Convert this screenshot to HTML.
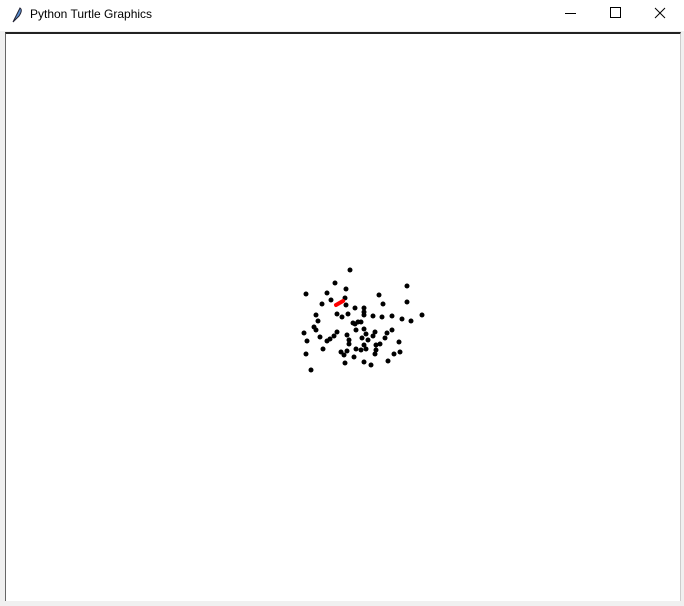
<!DOCTYPE html>
<html><head><meta charset="utf-8"><style>
html,body{margin:0;padding:0;width:684px;height:605px;overflow:hidden;background:#f0f0f0;font-family:"Liberation Sans",sans-serif}
#title{position:absolute;left:0;top:0;width:684px;height:31px;background:#fff}
#title span{position:absolute;left:30px;top:7px;font-size:12px;color:#000}
#canvas{position:absolute;left:5px;top:32px;width:674px;height:567px;background:#fff;border-top:2px solid #222;border-left:1px solid #666;border-right:1px solid #ccc}
</style></head><body>
<div id="title">
<svg width="14" height="18" style="position:absolute;left:10px;top:6px"><path d="M3 16 L10 2 Q13 4 9 10 Z" fill="#5a8fd0" stroke="#223" stroke-width="1"/></svg>
<span>Python Turtle Graphics</span>
<svg width="120" height="31" style="position:absolute;left:560px;top:0">
<line x1="5" y1="13.5" x2="16" y2="13.5" stroke="#000"/>
<rect x="50.5" y="7.5" width="10" height="10" fill="none" stroke="#000"/>
<path d="M95 8 L105 18 M105 8 L95 18" stroke="#000"/>
</svg>
</div>
<div id="canvas">
<svg id="plot" width="674" height="567"></svg>
</div>
<script>
const xs=[7,-8,3,64,-37,-16,2,36,-12,-21,40,64,3,12,21,21,-6,-1,5,21,30,39,49,59,68,79,-27,-25,-29,-27,10,15,12,18,-39,-6,-9,-13,-16,-23,4,13,21,23,32,30,44,49,6,19,25,42,56,-36,6,21,33,37,-20,13,18,23,33,-37,-2,4,1,32,51,57,11,2,21,28,45,-32];
const ys=[48,35,29,32,24,25,20,23,18,14,14,16,13,10,10,6,4,1,4,3,2,1,2,-1,-3,3,3,-3,-9,-12,-5,-4,-6,-4,-15,-14,-18,-21,-23,-19,-17,-12,-11,-16,-14,-18,-15,-12,-22,-20,-22,-20,-24,-23,-26,-27,-27,-26,-31,-31,-32,-31,-32,-36,-34,-33,-37,-36,-36,-34,-39,-45,-44,-47,-43,-52];
const redX=[-7,0];
const redY=[13,17];
const cx=337, cy=284;
function sx(v){return cx+v;}
function sy(v){return cy-v;}
const svg=document.getElementById('plot');
const NS='http://www.w3.org/2000/svg';
for(let i=0;i<xs.length;i++){
  const c=document.createElementNS(NS,'circle');
  c.setAttribute('cx',sx(xs[i]));c.setAttribute('cy',sy(ys[i]));c.setAttribute('r',2.5);c.setAttribute('fill','#000');
  
  
  svg.appendChild(c);
}
const l=document.createElementNS(NS,'line');
l.setAttribute('x1',sx(redX[0]));l.setAttribute('y1',sy(redY[0]));l.setAttribute('x2',sx(redX[1]));l.setAttribute('y2',sy(redY[1]));
l.setAttribute('stroke','#f00');l.setAttribute('stroke-width',4);l.setAttribute('stroke-linecap','round');


svg.appendChild(l);
</script>
</body></html>
